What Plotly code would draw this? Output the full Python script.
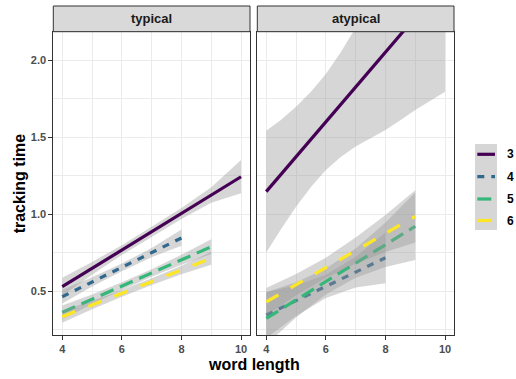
import plotly.graph_objects as go

W, H = 516, 379

# ---------------- data ----------------
facets = ["typical", "atypical"]
groups = ["3", "4", "5", "6"]
colors = ["#440154", "#31688E", "#35B779", "#FDE725"]
dashes = ["solid", "7px,7px", "14px,7px", "14px,14px"]

x_ticks = [4, 6, 8, 10]
y_ticks = [0.5, 1.0, 1.5, 2.0]

# typical
typ_x = {"3": [4, 5, 6, 7, 8, 9, 10], "4": [4, 5, 6, 7, 8],
         "5": [4, 5, 6, 7, 8, 9], "6": [4, 5, 6, 7, 8, 9]}
typ_fit = {"3": [0.528, 0.647, 0.766, 0.885, 1.004, 1.124, 1.243],
           "4": [0.463, 0.559, 0.654, 0.750, 0.845],
           "5": [0.361, 0.446, 0.532, 0.617, 0.703, 0.788],
           "6": [0.333, 0.409, 0.485, 0.561, 0.637, 0.713]}
typ_lo = {"3": [0.470, 0.605, 0.734, 0.853, 0.969, 1.074, 1.135],
          "4": [0.418, 0.529, 0.629, 0.720, 0.795],
          "5": [0.316, 0.414, 0.507, 0.592, 0.671, 0.740],
          "6": [0.293, 0.381, 0.463, 0.539, 0.609, 0.671]}
typ_hi = {"3": [0.586, 0.689, 0.798, 0.917, 1.039, 1.174, 1.352],
          "4": [0.508, 0.589, 0.679, 0.780, 0.900],
          "5": [0.406, 0.478, 0.557, 0.642, 0.735, 0.836],
          "6": [0.373, 0.437, 0.507, 0.583, 0.665, 0.755]}

# atypical
aty_x = {"3": [4, 4.5, 5, 5.5, 6, 6.5, 7, 7.5, 8, 8.5, 9, 9.5, 10],
         "4": [4, 5, 6, 7, 8],
         "5": [4, 5, 6, 7, 8, 9], "6": [4, 5, 6, 7, 8, 9]}
aty_fit = {"3": [1.146, 1.259, 1.373, 1.486, 1.599, 1.712, 1.826, 1.939, 2.052,
                 2.166, 2.279, 2.392, 2.506],
           "4": [0.344, 0.437, 0.530, 0.623, 0.716],
           "5": [0.322, 0.442, 0.562, 0.681, 0.801, 0.921],
           "6": [0.430, 0.541, 0.652, 0.763, 0.874, 0.985]}
aty_lo = {"3": [0.750, 0.904, 1.048, 1.176, 1.287, 1.372, 1.440, 1.494, 1.547,
                1.611, 1.677, 1.737, 1.796],
          "4": [0.194, 0.337, 0.455, 0.523, 0.551],
          "5": [0.152, 0.327, 0.477, 0.586, 0.656, 0.701],
          "6": [0.340, 0.471, 0.587, 0.678, 0.754, 0.815]}
aty_hi = {"3": [1.542, 1.614, 1.698, 1.796, 1.911, 2.052, 2.212, 2.384, 2.557,
                2.721, 2.881, 3.047, 3.216],
          "4": [0.494, 0.537, 0.605, 0.723, 0.881],
          "5": [0.492, 0.557, 0.647, 0.776, 0.946, 1.141],
          "6": [0.520, 0.611, 0.717, 0.848, 0.994, 1.155]}

panel_data = [(typ_x, typ_fit, typ_lo, typ_hi), (aty_x, aty_fit, aty_lo, aty_hi)]

# ---------------- layout geometry (pixels) ----------------
def px(x):
    return x / W

def py(y):
    return 1 - y / H

panels_x = [(53.3, 250.0), (257.3, 454.0)]
panel_top, panel_bot = 31.7, 335.0
strip_top = 6.0

fig = go.Figure()

RIBBON = "rgba(153,153,153,0.4)"
for pi, (dx, dfit, dlo, dhi) in enumerate(panel_data):
    xa = "x" if pi == 0 else "x2"
    ya = "y" if pi == 0 else "y2"
    for gi, g in enumerate(groups):
        xs = dx[g]
        fig.add_trace(go.Scatter(
            x=xs + xs[::-1], y=dhi[g] + dlo[g][::-1],
            fill="toself", fillcolor=RIBBON, line=dict(width=0),
            mode="lines", hoverinfo="skip", showlegend=False,
            xaxis=xa, yaxis=ya))
        fig.add_trace(go.Scatter(
            x=xs, y=dfit[g], mode="lines",
            line=dict(color=colors[gi], width=3.2, dash=dashes[gi]),
            name=g, showlegend=False, xaxis=xa, yaxis=ya))

TICKFONT = dict(family="Liberation Sans", size=11, color="#4D4D4D", weight="bold")
xcommon = dict(range=[3.7, 10.3], tickvals=x_ticks, ticktext=[str(v) for v in x_ticks],
               showgrid=True, gridcolor="#EBEBEB", gridwidth=1,
               minor=dict(dtick=1, tick0=3, showgrid=True, gridcolor="#EBEBEB", gridwidth=0.6),
               showline=True, linecolor="#333333", linewidth=1, mirror=True,
               ticks="outside", ticklen=4, tickcolor="#333333", tickwidth=1,
               tickfont=TICKFONT, zeroline=False)
ycommon = dict(range=[0.214, 2.186], tickvals=y_ticks, ticktext=["0.5", "1.0", "1.5", "2.0"],
               showgrid=True, gridcolor="#EBEBEB", gridwidth=1,
               minor=dict(dtick=0.25, tick0=0.25, showgrid=True, gridcolor="#EBEBEB", gridwidth=0.6),
               showline=True, linecolor="#333333", linewidth=1, mirror=True,
               tickcolor="#333333", tickwidth=1, tickfont=TICKFONT, zeroline=False,
               domain=[py(panel_bot), py(panel_top)])

fig.update_layout(
    width=W, height=H, autosize=False,
    margin=dict(l=0, r=0, t=0, b=0),
    paper_bgcolor="white", plot_bgcolor="white",
    showlegend=False,
    xaxis=dict(xcommon, domain=[px(panels_x[0][0]), px(panels_x[0][1])], anchor="y"),
    xaxis2=dict(xcommon, domain=[px(panels_x[1][0]), px(panels_x[1][1])], anchor="y2"),
    yaxis=dict(ycommon, anchor="x", ticks="outside", ticklen=4, showticklabels=True),
    yaxis2=dict(ycommon, anchor="x2", matches="y", ticks="", showticklabels=False),
)

shapes = []
annotations = []
# strips
for (x0, x1), lab in zip(panels_x, facets):
    shapes.append(dict(type="rect", xref="paper", yref="paper",
                       x0=px(x0), x1=px(x1), y0=py(panel_top), y1=py(strip_top),
                       fillcolor="#D9D9D9", line=dict(color="#333333", width=1)))
    annotations.append(dict(text=lab, xref="paper", yref="paper",
                            x=px((x0 + x1) / 2), y=py((strip_top + panel_top) / 2),
                            xanchor="center", yanchor="middle", showarrow=False,
                            font=dict(family="Liberation Sans", size=13, color="#1A1A1A", weight="bold")))

# axis titles
annotations.append(dict(text="word length", xref="paper", yref="paper",
                        x=px((panels_x[0][0] + panels_x[1][1]) / 2), y=py(364),
                        xanchor="center", yanchor="middle", showarrow=False,
                        font=dict(family="Liberation Sans", size=16, color="black", weight="bold")))
annotations.append(dict(text="tracking time", xref="paper", yref="paper",
                        x=px(19), y=py((panel_top + panel_bot) / 2), textangle=-90,
                        xanchor="center", yanchor="middle", showarrow=False,
                        font=dict(family="Liberation Sans", size=16, color="black", weight="bold")))

# legend (keys)
shapes.append(dict(type="rect", xref="paper", yref="paper",
                   x0=px(475), x1=px(497), y0=py(230), y1=py(144),
                   fillcolor="#D6D6D6", line=dict(width=0)))
key_y = [154.3, 176.7, 199.0, 220.5]
for gi, g in enumerate(groups):
    shapes.append(dict(type="line", xref="paper", yref="paper",
                       x0=px(477.3), x1=px(495), y0=py(key_y[gi]), y1=py(key_y[gi]),
                       line=dict(color=colors[gi], width=3.2, dash=dashes[gi])))
    annotations.append(dict(text=g, xref="paper", yref="paper",
                            x=px(505), y=py(key_y[gi]), xanchor="left", yanchor="middle",
                            showarrow=False,
                            font=dict(family="Liberation Sans", size=12, color="black", weight="bold")))

fig.update_layout(shapes=shapes, annotations=annotations)
fig.write_html("out.html", config={"displayModeBar": False},
               post_script="document.body.style.margin='0';")
